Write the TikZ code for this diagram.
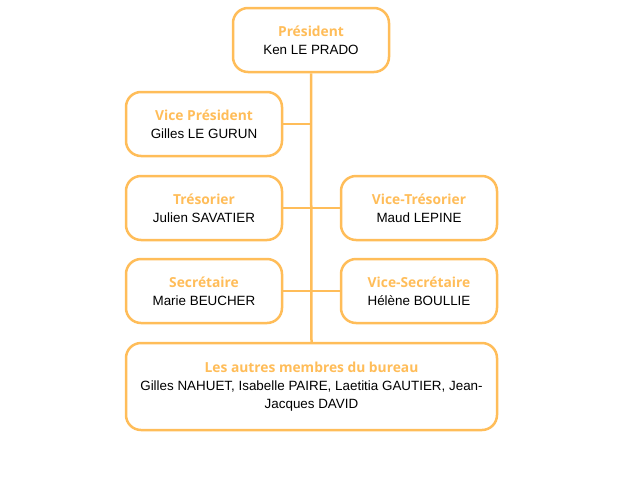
\documentclass[tikz,border=0pt]{standalone}
\usepackage{fontspec}
\setmainfont{Liberation Sans}
\newfontfamily\titlefont{Open Sans}
\definecolor{bureauorange}{HTML}{FFBD59}
\newcommand{\poste}[1]{{\titlefont\bfseries\fontsize{13.8}{18}\selectfont\color{bureauorange}#1}}

\begin{document}
\begin{tikzpicture}[x=1pt,y=-1pt]

        \useasboundingbox (0,0) rectangle (640,480);

        \begin{scope}[every node/.style={draw=bureauorange, line width=2.5pt, rounded corners=15pt,
            fill=white, minimum width=156pt, minimum height=64pt, align=center,
            font=\fontsize{13.4}{18}\selectfont, inner sep=2pt}]
          \node (pres)   at (311,40)  {\poste{Président}\\Ken LE PRADO};
          \node (vp)     at (204,124) {\poste{Vice Président}\\Gilles LE GURUN};
          \node (tres)   at (204,208) {\poste{Trésorier}\\Julien SAVATIER};
          \node (vtres)  at (419,208) {\poste{Vice-Trésorier}\\Maud LEPINE};
          \node (sec)    at (204,291) {\poste{Secrétaire}\\Marie BEUCHER};
          \node (vsec)   at (419,291) {\poste{Vice-Secrétaire}\\Hélène BOULLIE};
          \node[minimum width=371pt, minimum height=87pt] (autres) at (311.5,386.5)
            {\poste{Les autres membres du bureau}\\Gilles NAHUET, Isabelle PAIRE, Laetitia GAUTIER, Jean-\\Jacques DAVID};
        \end{scope}

        \begin{scope}[draw=bureauorange, line width=2.5pt]
          \draw (pres.south) -- (autres.north);
          \draw (vp.east) -- (vp.east -| pres.south);
          \draw (tres.east) -- (vtres.west);
          \draw (sec.east) -- (vsec.west);
        \end{scope}

      \end{tikzpicture}
\end{document}
